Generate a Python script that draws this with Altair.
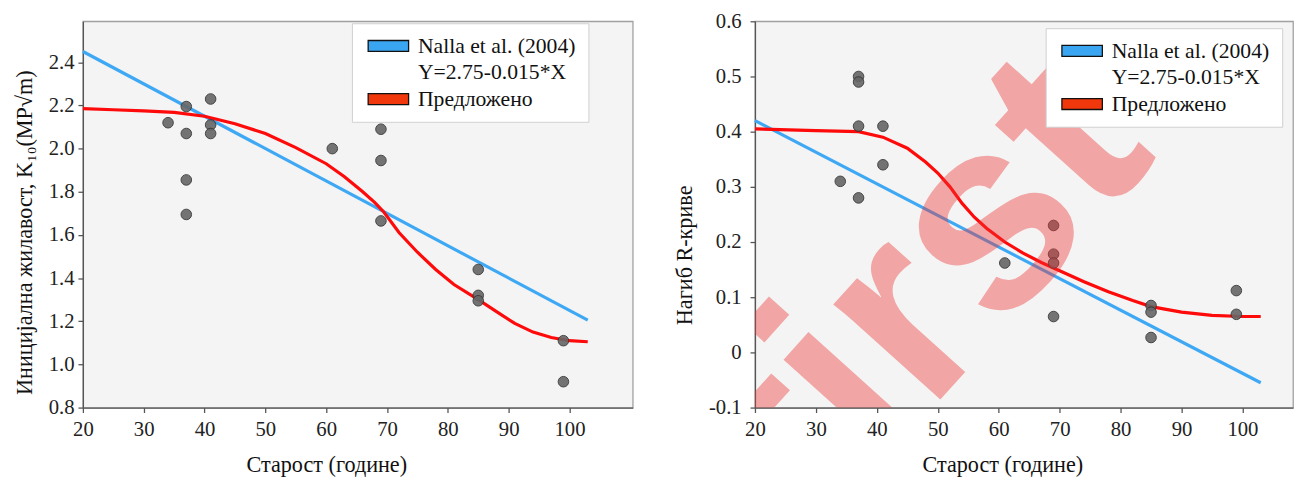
import altair as alt
import pandas as pd

FONT = "Liberation Serif"

# ---------------- Left panel: initial toughness K10 ----------------
k_age = [34, 37, 37, 37, 37, 41, 41, 41, 61, 69, 69, 69, 85, 85, 85, 99, 99]
k_val = [2.12, 2.195, 2.07, 1.855, 1.695, 2.23, 2.11, 2.07, 2.00, 2.09, 1.945, 1.665,
         1.44, 1.32, 1.295, 1.11, 0.92]
k_nalla_age = [20, 103]
k_nalla_val = [2.45, 1.205]
k_prop_age = [20, 25, 30, 35, 40, 45, 50, 55, 60, 63, 66, 68, 69.5, 72, 75, 78, 81, 85,
              88, 91, 94, 97, 100, 103]
k_prop_val = [2.185, 2.18, 2.175, 2.168, 2.15, 2.115, 2.07, 2.005, 1.93, 1.87, 1.80, 1.75,
              1.705, 1.61, 1.52, 1.44, 1.37, 1.30, 1.245, 1.19, 1.15, 1.125, 1.11, 1.105]

# ---------------- Right panel: R-curve slope ----------------
r_age = [34, 37, 37, 37, 37, 41, 41, 61, 69, 69, 69, 69, 85, 85, 85, 99, 99]
r_val = [0.31, 0.50, 0.49, 0.41, 0.28, 0.41, 0.34, 0.162, 0.23, 0.178, 0.162, 0.065,
         0.085, 0.073, 0.027, 0.112, 0.069]
r_nalla_age = [20, 103]
r_nalla_val = [0.42, -0.055]
r_prop_age = [20, 30, 37, 41, 45, 48, 50, 52, 54, 56, 58, 61, 64, 67, 70, 74, 78, 82, 85,
              90, 95, 100, 103]
r_prop_val = [0.405, 0.402, 0.400, 0.39, 0.37, 0.345, 0.325, 0.30, 0.27, 0.245, 0.225, 0.20,
              0.18, 0.163, 0.148, 0.128, 0.11, 0.094, 0.083, 0.073, 0.067, 0.065, 0.065]

SERIES = ["Nalla et al. (2004)", "Y=2.75-0.015*X", "Предложено"]
LINE_COLORS = ["#3fa8f4", "rgba(0,0,0,0)", "#ff0a0a"]
SWATCH_COLORS = ["#3aa6f2", "rgba(0,0,0,0)", "#f0380c"]
SWATCH_STROKES = ["#111111", "rgba(0,0,0,0)", "#111111"]

X_TICKS = [20, 30, 40, 50, 60, 70, 80, 90, 100]
K_TICKS = [0.8, 1.0, 1.2, 1.4, 1.6, 1.8, 2.0, 2.2, 2.4]
R_TICKS = [-0.1, 0.0, 0.1, 0.2, 0.3, 0.4, 0.5, 0.6]

WATERMARK = "first"

LABEL_SIZE = 21
TITLE_SIZE = 22.5


def lines_df(a1, v1, a2, v2):
    return pd.DataFrame({
        "age": a1 + a2,
        "val": v1 + v2,
        "series": [SERIES[0]] * len(a1) + [SERIES[2]] * len(a2),
    })


def panel(pts_age, pts_val, ldf, xdom, ydom, yticks, ytitle, ytitle_y, ylabel_pad,
          ylabel_expr, xtitle_x, leg_x, leg_y, w, h, watermark=None):
    pts = pd.DataFrame({"age": pts_age, "val": pts_val})
    x_scale = alt.Scale(domain=xdom, nice=False, zero=False)
    y_scale = alt.Scale(domain=ydom, nice=False, zero=False)
    common = dict(labelFont=FONT, labelFontSize=LABEL_SIZE, labelColor="#222222",
                  titleFont=FONT, titleFontSize=TITLE_SIZE, titleFontWeight="normal",
                  titleColor="#111111", labelFlush=False, grid=False)
    x_axis = alt.Axis(values=X_TICKS, title="Старост (године)", titleX=xtitle_x,
                      tickSize=5, labelPadding=6, titlePadding=15, **common)
    y_axis = alt.Axis(values=yticks, title=ytitle, titleY=ytitle_y, tickSize=5,
                      labelPadding=ylabel_pad, titlePadding=12, labelExpr=ylabel_expr,
                      **common)

    x = alt.X("age:Q", scale=x_scale, axis=x_axis)
    y = alt.Y("val:Q", scale=y_scale, axis=y_axis)

    line = alt.Chart(ldf).mark_line(strokeWidth=3.2).encode(
        x=x, y=y,
        color=alt.Color("series:N", scale=alt.Scale(domain=SERIES, range=LINE_COLORS),
                        legend=None),
        detail="series:N",
    )

    legend = alt.Legend(
        title=None, orient="none", legendX=leg_x, legendY=leg_y,
        symbolType="M-3.73,-1H3.73V1H-3.73Z", symbolSize=121, symbolStrokeWidth=1.3,
        symbolOffset=14, labelOffset=19, symbolOpacity=1,
        labelFont=FONT, labelFontSize=22, labelColor="#111111", labelLimit=400,
        fillColor="white", strokeColor="#cfcfcf", padding=12, rowPadding=5,
    )
    legend_layer = alt.Chart(ldf).mark_square(filled=True, opacity=1).encode(
        x=alt.X("age:Q", scale=x_scale),
        y=alt.Y("val:Q", scale=y_scale),
        fill=alt.Fill("series:N", scale=alt.Scale(domain=SERIES, range=SWATCH_COLORS),
                      legend=legend),
        stroke=alt.Stroke("series:N", scale=alt.Scale(domain=SERIES, range=SWATCH_STROKES),
                          legend=legend),
    ).transform_filter("datum.age < 0")

    points = alt.Chart(pts).mark_point(
        filled=True, size=115, fill="#666666", stroke="#333333", strokeWidth=1,
        opacity=0.9,
    ).encode(x=x, y=y)

    layers = [line, points, legend_layer]
    if watermark is not None:
        wm = pd.DataFrame({"age": [watermark[0]], "val": [watermark[1]], "t": [WATERMARK]})
        layers.append(
            alt.Chart(wm).mark_text(
                font="Liberation Sans", fontWeight="bold", fontSize=275, angle=312,
                align="center", baseline="middle", color="#f03030", opacity=0.4,
                clip=True,
            ).encode(x=alt.X("age:Q", scale=x_scale), y=alt.Y("val:Q", scale=y_scale),
                     text="t:N")
        )
    return alt.layer(*layers).resolve_legend(fill="independent", stroke="independent").properties(width=w, height=h)


left = panel(k_age, k_val, lines_df(k_nalla_age, k_nalla_val, k_prop_age, k_prop_val),
             [20, 110.4], [0.8, 2.59], K_TICKS,
             "Иницијална жилавост, K₁₀(MP√m)", 214, 4,
             "format(datum.value, '.1f')", 247, 273, 2, 558, 392)

right = panel(r_age, r_val, lines_df(r_nalla_age, r_nalla_val, r_prop_age, r_prop_val),
              [20, 108.3], [-0.1, 0.6], R_TICKS,
              "Нагиб R-криве", 237, 9,
              "datum.value == 0 ? '0' : (datum.value < 0 ? '-' + format(-datum.value, '.1f') : format(datum.value, '.1f'))",
              251, 295, 7, 546, 392, watermark=(48.3, 0.11))

chart = alt.hconcat(left, right, spacing=40, background="white").resolve_scale(
    color="independent", fill="independent", stroke="independent", x="independent", y="independent"
).resolve_legend(fill="independent", stroke="independent").properties(
    padding={"left": 5, "top": -2, "right": 0, "bottom": 0}
).configure_view(
    fill="#f4f4f4", stroke="#a0a0a0", strokeWidth=1.3
).configure_axis(
    labelFont=FONT, labelFontSize=LABEL_SIZE, labelColor="#222222",
    titleFont=FONT, titleFontSize=TITLE_SIZE, titleFontWeight="normal", titleColor="#111111",
    domainColor="#555555", tickColor="#555555", domainWidth=1.3, tickWidth=1.3, grid=False,
)

chart.save("out.html", embed_options={"renderer": "svg", "actions": False})
